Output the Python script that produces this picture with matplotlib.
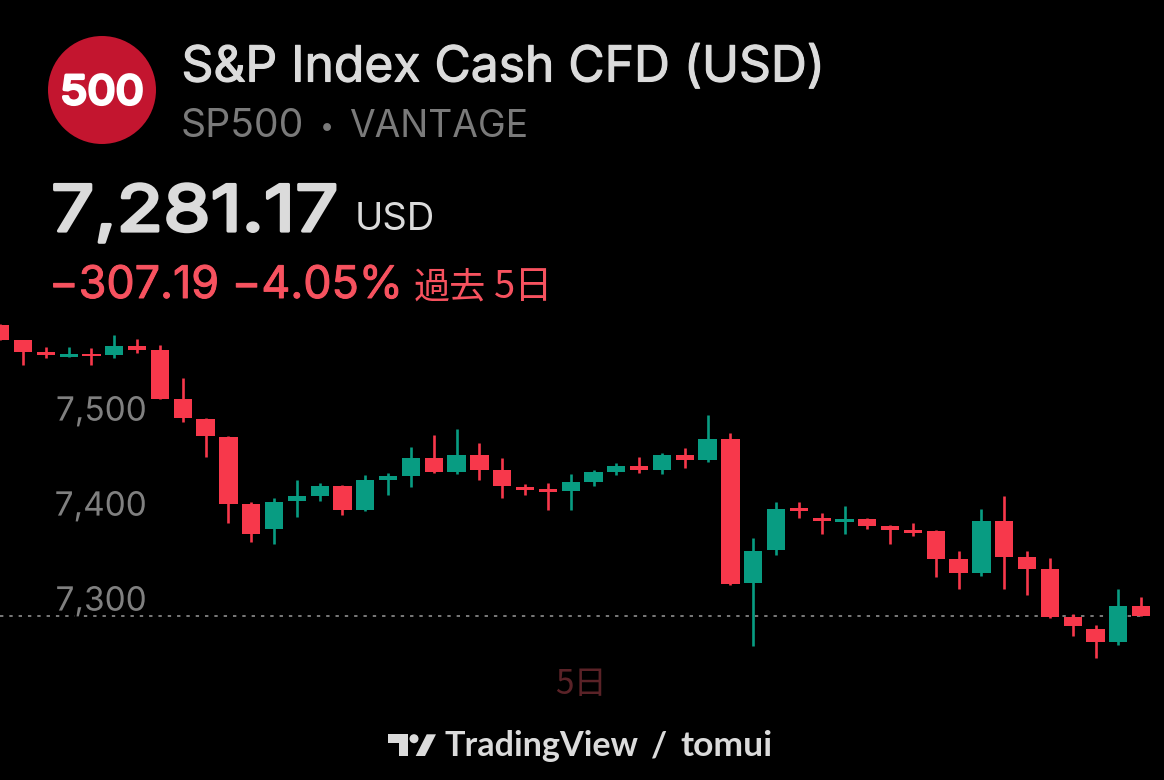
import matplotlib
matplotlib.use("Agg")
import matplotlib.pyplot as plt
import matplotlib.patheffects as pe
from matplotlib.patches import Ellipse, Polygon
from matplotlib.transforms import Affine2D, blended_transform_factory

W, H = 1164, 780

# prices
opens = [7587.5, 7571.4, 7559.1, 7553.8, 7557.3, 7555.9, 7565.7, 7561.2, 7509.6, 7488.5,
         7469.9, 7399.4, 7373.0, 7401.9, 7407.8, 7418.0, 7393.1, 7424.4, 7428.9, 7447.8,
         7432.8, 7451.0, 7434.9, 7417.0, 7414.6, 7412.5, 7421.9, 7432.5, 7438.8, 7434.6,
         7450.7, 7445.4, 7467.2, 7315.6, 7350.4, 7394.9, 7384.0, 7380.1, 7383.0, 7375.6,
         7371.7, 7370.7, 7341.2, 7326.1, 7380.9, 7343.6, 7330.7, 7280.1, 7267.8, 7254.1,
         7291.7]
highs = [7588.5, 7571.7, 7564.3, 7564.0, 7563.3, 7577.0, 7572.4, 7566.1, 7531.7, 7489.3,
         7471.0, 7400.8, 7405.4, 7424.0, 7420.9, 7419.4, 7429.9, 7431.7, 7458.8, 7472.0,
         7477.7, 7463.0, 7447.8, 7420.1, 7420.9, 7430.4, 7435.2, 7442.6, 7448.6, 7452.8,
         7457.7, 7492.8, 7474.1, 7363.3, 7400.8, 7401.2, 7389.6, 7396.7, 7384.7, 7377.0,
         7379.1, 7371.4, 7349.9, 7393.5, 7407.5, 7349.3, 7341.9, 7283.0, 7271.4, 7309.6,
         7300.9]
lows = [7571.2, 7545.4, 7552.4, 7553.5, 7545.4, 7552.7, 7558.0, 7509.3, 7485.0, 7448.2,
        7379.4, 7359.4, 7357.3, 7385.7, 7401.9, 7387.8, 7391.4, 7408.6, 7417.3, 7432.0,
        7430.4, 7424.4, 7405.1, 7408.6, 7393.1, 7392.5, 7417.7, 7429.9, 7432.0, 7430.4,
        7437.3, 7443.3, 7314.1, 7249.9, 7345.4, 7384.7, 7367.2, 7367.8, 7372.8, 7357.3,
        7365.7, 7322.6, 7309.3, 7323.3, 7309.3, 7303.0, 7279.1, 7259.8, 7237.3, 7250.7,
        7280.8]
closes = [7571.7, 7559.4, 7555.9, 7556.6, 7554.5, 7565.7, 7561.5, 7509.6, 7489.3, 7470.3,
          7399.4, 7367.5, 7401.5, 7407.5, 7417.7, 7393.1, 7424.0, 7428.6, 7447.8, 7432.8,
          7451.0, 7434.9, 7417.7, 7413.5, 7411.4, 7421.9, 7432.5, 7438.8, 7434.6, 7450.7,
          7445.4, 7467.2, 7315.2, 7349.6, 7393.8, 7391.7, 7380.9, 7383.3, 7375.9, 7371.7,
          7368.6, 7341.2, 7326.1, 7380.9, 7343.6, 7330.7, 7280.1, 7271.0, 7254.1, 7291.4,
          7281.17]
y_ticks = [7300, 7400, 7500]
y_tick_labels = ["7,300", "7,400", "7,500"]
last_price = 7281.17
day_pos = 25.45
day_label = "5日"

RED = "#F7384B"
GREEN = "#089C82"
BG = "#000000"
LIGHT = "#DBDBDB"
GRAY = "#7A7A7A"
TXT_RED = "#F7525F"
CJK = ["Noto Sans CJK JP"]

plt.rcParams["font.family"] = ["Inter", "Noto Sans CJK JP", "DejaVu Sans"]

fig = plt.figure(figsize=(W / 100, H / 100), dpi=100, facecolor=BG)
ax = fig.add_axes([0, 0, 1, 1], facecolor=BG)
ax.set_xlim(-0.009, 51.0)
ax.set_ylim(7108.5, 7929.6)
for s in ax.spines.values():
    s.set_visible(False)

xs = list(range(len(opens)))
colors = [GREEN if c >= o else RED for o, c in zip(opens, closes)]

ax.hlines(last_price, -0.01, 50, color="#9A9A9A", lw=1.1, linestyles=(0, (2.2, 3.9)), zorder=0.5)
ax.vlines(xs, lows, highs, colors=colors, lw=1.9, zorder=1)
ax.bar(xs, [abs(c - o) for o, c in zip(opens, closes)], bottom=[min(o, c) for o, c in zip(opens, closes)],
       width=0.8, color=colors, linewidth=0, zorder=1)

ax.set_xticks([])
ax.set_yticks(y_ticks)
ax.set_yticklabels(y_tick_labels, fontsize=24, color="#808080")
ax.tick_params(axis="y", length=0, pad=-105.8)
for lab in ax.get_yticklabels():
    lab.set_path_effects([pe.withStroke(linewidth=3, foreground=BG)])

trans = blended_transform_factory(ax.transData, ax.transAxes)
ax.text(day_pos, 1 - 684 / H, day_label, transform=trans, ha="center", va="center",
        fontsize=24, color="#5A2227", family=CJK)


def px(x, y):
    return x / W, 1 - y / H


def heavy(width, color):
    # Inter only comes in one weight here, so thicken it with an outline
    return [pe.withStroke(linewidth=width, foreground=color)]


class StretchX(pe.AbstractPathEffect):
    # bold digits in the original run wider than outlined Inter, widen about x0 (pixels)
    def __init__(self, sx, x0, width, color):
        super().__init__()
        self.sx, self.x0, self.width, self.color = sx, x0, width, color

    def draw_path(self, renderer, gc, tpath, affine, rgbFace=None):
        stretched = affine + Affine2D().translate(-self.x0, 0).scale(self.sx, 1).translate(self.x0, 0)
        gc0 = renderer.new_gc()
        gc0.copy_properties(gc)
        gc0.set_linewidth(self.width)
        gc0.set_foreground(self.color)
        renderer.draw_path(gc0, tpath, stretched, rgbFace)
        gc0.restore()


# header
fig.add_artist(Ellipse(px(102, 90), 108 / W, 108 / H, transform=fig.transFigure, color="#C3152F", lw=0))
fig.text(*px(102, 104), "500", color="white", fontsize=28.5, ha="center", va="baseline",
         path_effects=[StretchX(1.13, 102, 2.4, "white")])
fig.text(*px(181.5, 81.5), "S&P Index Cash CFD (USD)", color=LIGHT, fontsize=35.8, va="baseline",
         path_effects=heavy(0.8, LIGHT))
fig.text(*px(181, 137), "SP500", color=GRAY, fontsize=28.2, va="baseline")
fig.text(*px(327, 134), "•", color=GRAY, fontsize=18, ha="center", va="baseline")
fig.text(*px(349, 137), "VANTAGE", color=GRAY, fontsize=26.8, va="baseline")
fig.text(*px(51, 231), "7,281.17", color=LIGHT, fontsize=46, va="baseline",
         path_effects=[StretchX(1.2, 51, 2.3, LIGHT)])
fig.text(*px(354.5, 230), "USD", color=LIGHT, fontsize=27.5, va="baseline")
fig.text(*px(49, 298), "−307.19 −4.05%", color=TXT_RED, fontsize=32.3, va="baseline",
         path_effects=heavy(0.7, TXT_RED))
fig.text(*px(414, 298), "過去", color=TXT_RED, fontsize=26, va="baseline", family=CJK)
fig.text(*px(494, 298), "5日", color=TXT_RED, fontsize=27.5, va="baseline", family=CJK)

# watermark
for pts in ([(388.3, 734.3), (408.3, 734.3), (408.3, 756), (399.3, 756), (399.3, 742.7), (388.3, 742.7)],
            [(426.7, 734.3), (436, 734.3), (425, 756), (415.7, 756)]):
    fig.add_artist(Polygon([px(*p) for p in pts], closed=True, transform=fig.transFigure,
                           facecolor=LIGHT, lw=0))
fig.add_artist(Ellipse(px(414, 738.7), 9 / W, 9 / H, transform=fig.transFigure, color=LIGHT, lw=0))
fig.text(*px(445, 756), "TradingView", color=LIGHT, fontsize=24.6, fontweight="bold", family="Lato", va="baseline")
fig.text(*px(651, 757), "/", color=LIGHT, fontsize=25, fontweight="bold", family="Lato", va="baseline")
fig.text(*px(680, 756), "tomui", color=LIGHT, fontsize=25.5, fontweight="bold", family="Lato", va="baseline")

fig.savefig("out.png", dpi=100, facecolor=BG)
